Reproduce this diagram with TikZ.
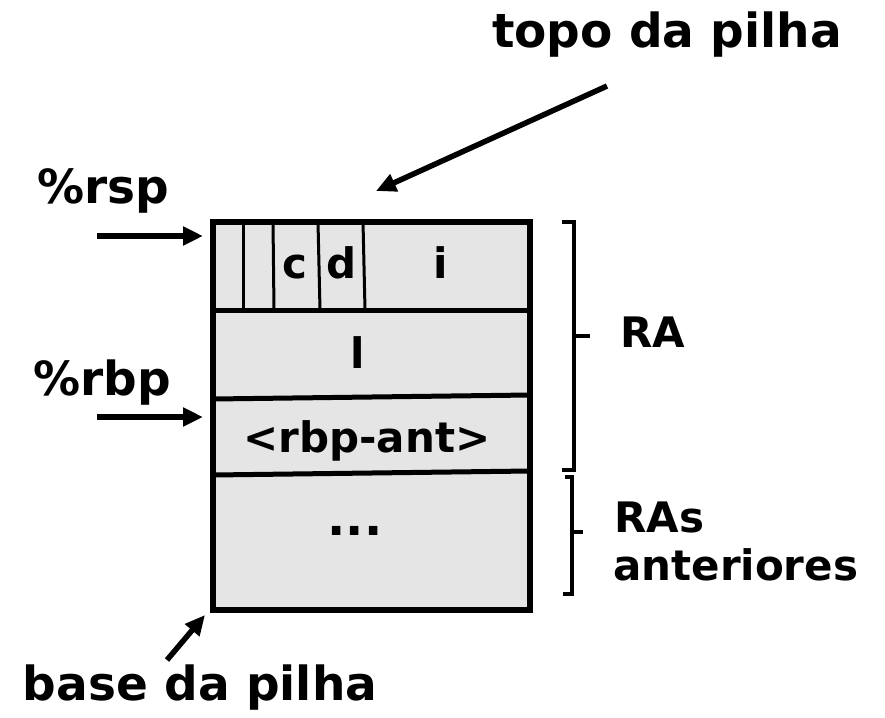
\documentclass[tikz,border=0pt]{standalone}
\usepackage{fontspec}
\setmainfont{DejaVu Sans}
\usetikzlibrary{arrows.meta}
\begin{document}
\begin{tikzpicture}[x=1pt,y=-1pt,
  lbl/.style={font=\bfseries\fontsize{47}{54}\selectfont, inner sep=0pt, anchor=base},
  cell/.style={font=\bfseries\fontsize{42}{48}\selectfont, inner sep=0pt, anchor=base},
  side/.style={font=\bfseries\fontsize{42}{48}\selectfont, inner sep=0pt, anchor=base west},
  frame/.style={line width=5.5pt, fill=black!10},
  sep/.style={line width=5pt},
  thin/.style={line width=3pt},
  arr/.style={line width=5.5pt, -{Triangle[length=20pt,width=18pt]}},
  brk/.style={line width=4pt}]
\useasboundingbox (0,0) rectangle (885,717);
% stack box
\draw[frame] (213,222) rectangle (530,610);
\coordinate (l1a) at (213,310); \coordinate (l1b) at (530,310);
\coordinate (l2a) at (213,399); \coordinate (l2b) at (530,395);
\coordinate (l3a) at (213,475); \coordinate (l3b) at (530,471);
\draw[sep] (l1a) -- (l1b);
\draw[sep] (l2a) -- (l2b);
\draw[sep] (l3a) -- (l3b);
% top row cells
\coordinate (v1t) at (243,222); \coordinate (v1b) at (243,310);
\coordinate (v2t) at (273,222); \coordinate (v2b) at (274,310);
\coordinate (v3t) at (318,222); \coordinate (v3b) at (320,310);
\coordinate (v4t) at (363,222); \coordinate (v4b) at (365,310);
\draw[thin] (v1t) -- (v1b);
\draw[thin] (v2t) -- (v2b);
\draw[thin] (v3t) -- (v3b);
\draw[thin] (v4t) -- (v4b);
\node[cell] (c) at (295,278) {c};
\node[cell] (d) at (342,278) {d};
\node[cell] (i) at (441,278) {i};
\node[cell] (l) at (358,368) {l};
\node[cell] (rbpant) at (367,452) {<rbp-ant>};
\node[cell, font=\bfseries\fontsize{48}{54}\selectfont] (dots) at (355,535) {...};
% labels
\node[lbl] (rsp) at (103,203) {\%rsp};
\node[lbl] (rbp) at (102,395) {\%rbp};
\node[lbl] (topo) at (667,48) {topo da pilha};
\node[lbl] (base) at (200,700) {base da pilha};
\node[cell] (ra) at (653,347) {RA};
\node[side] (ras1) at (614,532) {RAs};
\node[side] (ras2) at (613,580) {anteriores};
% arrows
\coordinate (rspS) at (97,236); \coordinate (rspE) at (203,236);
\coordinate (rbpS) at (97,417); \coordinate (rbpE) at (203,417);
\coordinate (topS) at (607,86); \coordinate (topE) at (376,191);
\coordinate (basS) at (167,660); \coordinate (basE) at (205,615);
\draw[arr] (rspS) -- (rspE);
\draw[arr] (rbpS) -- (rbpE);
\draw[arr] (topS) -- (topE);
\draw[arr] (basS) -- (basE);
% brackets
\coordinate (b1t) at (562,222); \coordinate (b1b) at (562,470);
\coordinate (b1m) at (590,336);
\draw[brk] (b1t) -- (574,222) -- (574,470) -- (b1b);
\draw[brk] (574,336) -- (b1m);
\coordinate (b2t) at (565,477); \coordinate (b2b) at (563,594);
\coordinate (b2m) at (583,532);
\draw[brk] (b2t) -- (572,477) -- (572,594) -- (b2b);
\draw[brk] (572,532) -- (b2m);
\end{tikzpicture}
\end{document}
